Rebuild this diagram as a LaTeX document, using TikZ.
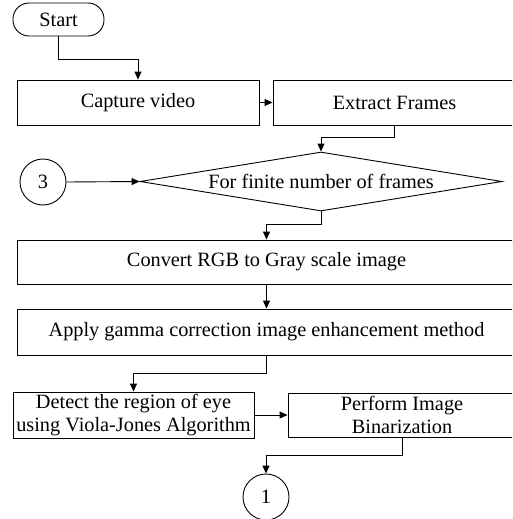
\documentclass[tikz,border=0pt]{standalone}
\usepackage{fontspec}
\setmainfont{Liberation Serif}
\usetikzlibrary{shapes.geometric,arrows.meta}
\tikzset{
  base/.style={draw=black, line width=0.9pt, font=\fontsize{20.3}{23}\selectfont, inner sep=0pt},
  proc/.style={base, rectangle, align=center},
  term/.style={base, rectangle, rounded corners=16pt, minimum width=91pt, minimum height=33pt},
  dec/.style={base, diamond, aspect=6.1, minimum width=362pt, minimum height=59pt},
  conn/.style={base, circle, minimum size=46pt},
  arr/.style={line width=0.9pt, -{Triangle[length=8pt,width=7pt]}}
}
\begin{document}
\begin{tikzpicture}[x=1pt,y=-1pt]
\useasboundingbox (0,0) rectangle (512,519);
\clip (0,0) rectangle (512,519);
\node[term] (start) at (58.5,19.5) {Start};
\node[proc, minimum width=242pt, minimum height=45pt] (capture) at (138,102.5) {Capture video};
\node[proc, minimum width=243pt, minimum height=45pt] (extract) at (394.5,102.5) {Extract Frames};
\node[dec] (dia) at (321,181.5) {For finite number of frames};
\node[conn] (c3) at (43,182) {3};
\node[proc, minimum width=499pt, minimum height=44pt] (convert) at (266.5,262) {Convert RGB to Gray scale image};
\node[proc, minimum width=499pt, minimum height=46pt] (apply) at (266.5,332) {Apply gamma correction image enhancement method};
\node[proc, minimum width=241pt, minimum height=46pt] (detect) at (133.5,415) {Detect the region of eye\\using Viola-Jones Algorithm};
\node[proc, minimum width=228pt, minimum height=44pt] (perform) at (402,415) {Perform Image\\Binarization};
\node[conn] (c1) at (266,497) {1};
\draw[arr] (start.south) -- ++(0,23) -| (capture.north);
\draw[arr] (capture.east) -- (extract.west);
\draw[arr] (extract.south) -- ++(0,12) -| (dia.north);
\draw[arr] (c3.east) -- (dia.west);
\draw[arr] (dia.south) -- ++(0,13) -| (convert.north);
\draw[arr] (convert.south) -- (apply.north);
\draw[arr] (apply.south) -- ++(0,18) -| (detect.north);
\draw[arr] (detect.east) -- (perform.west);
\draw[arr] (perform.south) -- ++(0,18) -| (c1.north);
\end{tikzpicture}
\end{document}
